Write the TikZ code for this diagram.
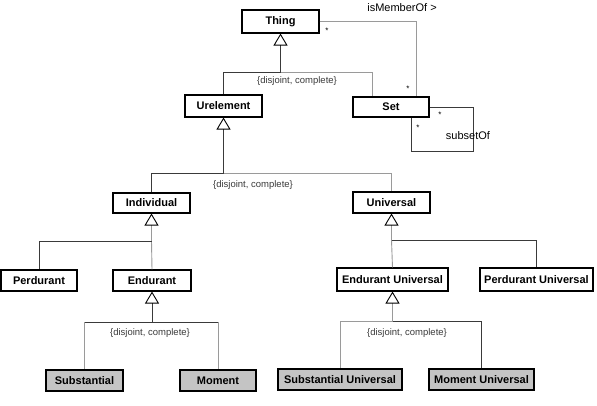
\documentclass[tikz,border=0pt]{standalone}
\usepackage{fontspec}
\setmainfont{Liberation Sans}
\usetikzlibrary{arrows.meta}
\definecolor{boxgray}{HTML}{C4C4C4}
\definecolor{lgray}{HTML}{9A9A9A}
\definecolor{dgray}{HTML}{3A3A3A}
\tikzset{
  cls/.style={draw=black, line width=1.1pt, fill=white, inner sep=0pt,
    font=\fontsize{11}{12}\selectfont\bfseries},
  clsg/.style={cls, fill=boxgray},
  gen/.style={-{Triangle[open, width=14pt, length=12pt, line width=0.9pt, color=black]}},
  ln/.style={line width=0.9pt, draw=dgray},
  lnl/.style={line width=0.9pt, draw=lgray},
  lbl/.style={font=\fontsize{9.5}{10}\selectfont, text=dgray, inner sep=0pt},
  albl/.style={font=\fontsize{11}{12}\selectfont, inner sep=0pt},
  star/.style={font=\fontsize{8}{9}\selectfont, inner sep=0pt}
}
\begin{document}
\begin{tikzpicture}[x=1pt, y=-1pt]
\useasboundingbox (0,0) rectangle (597,406);

% classes
\node[cls, minimum width=77pt, minimum height=23pt] (thing) at (280.5,21.5) {Thing};
\node[cls, minimum width=77pt, minimum height=22pt] (urel) at (223.5,106) {Urelement};
\node[cls, minimum width=76pt, minimum height=20pt] (set) at (391,107) {Set};
\node[cls, minimum width=77pt, minimum height=20pt] (indiv) at (151.5,203) {Individual};
\node[cls, minimum width=77pt, minimum height=21pt] (univ) at (391.5,202.5) {Universal};
\node[cls, minimum width=76pt, minimum height=21pt] (perd) at (39,280.5) {Perdurant};
\node[cls, minimum width=78pt, minimum height=21pt] (endu) at (152,280.5) {Endurant};
\node[cls, minimum width=111pt, minimum height=23pt] (eu) at (392.5,279.5) {Endurant Universal};
\node[cls, minimum width=113pt, minimum height=23pt] (pu) at (536.5,279.5) {Perdurant Universal};
\node[clsg, minimum width=77pt, minimum height=21pt] (subs) at (84.5,380.5) {Substantial};
\node[clsg, minimum width=76pt, minimum height=21pt] (mom) at (218,380.5) {Moment};
\node[clsg, minimum width=124pt, minimum height=21pt] (su) at (340,379.5) {Substantial Universal};
\node[clsg, minimum width=105pt, minimum height=21pt] (mu) at (481.5,379.5) {Moment Universal};

% junction coordinates
\coordinate (j1) at (280.5,72);
\coordinate (j2) at (223.5,173);
\coordinate (j3) at (151.5,241);
\coordinate (j4) at (391.5,240);
\coordinate (j5) at (152,322);
\coordinate (j6) at (392.5,321);
\coordinate (setin) at ([xshift=-19pt]set.north);
\coordinate (memb) at ([xshift=25pt]set.north);
\coordinate (sl1) at ([xshift=44pt]set.east);
\coordinate (sl3) at ([xshift=20pt]set.south);
\coordinate (sl2) at ([yshift=-34pt]sl3);
\coordinate (h5a) at (subs.north |- j5);
\coordinate (h5b) at (mom.north |- j5);

% Thing generalization
\draw[ln, gen] (j1) -- (thing.south);
\draw[ln] (j1) -| (urel.north);
\draw[lnl] (j1) -| (setin);
\node[lbl] (dc1) at (297,81) {\{disjoint, complete\}};

% isMemberOf
\draw[lnl] (thing.east) -| (memb);
\node[albl] (ism) at (402,8) {isMemberOf >};
\node[star] (s1) at (327,31) {*};
\node[star] (s2) at (408,89) {*};

% subsetOf
\draw[ln] (set.east) -| (sl1) |- (sl2) -| (sl3);
\node[albl] (sso) at (468,136) {subsetOf};
\node[star] (s3) at (440,115) {*};
\node[star] (s4) at (418,128) {*};

% Urelement generalization
\draw[ln, gen] (j2) -- (urel.south);
\draw[ln] (j2) -| (indiv.north);
\draw[lnl] (j2) -| (univ.north);
\node[lbl] (dc2) at (253,185) {\{disjoint, complete\}};

% Individual generalization
\draw[lnl, gen] (j3) -- (indiv.south);
\draw[lnl] (j3) -- (endu.north);
\draw[ln] (j3) -| (perd.north);

% Universal generalization
\draw[lnl, gen] (j4) -- (univ.south);
\draw[lnl] (j4) -- (eu.north);
\draw[ln] (j4) -| (pu.north);

% Endurant generalization
\draw[ln, gen] (j5) -- (endu.south);
\draw[ln] (h5a) -- (h5b);
\draw[lnl] (h5a) -- (subs.north);
\draw[lnl] (h5b) -- (mom.north);
\node[lbl] (dc3) at (150,333) {\{disjoint, complete\}};

% Endurant Universal generalization
\draw[lnl, gen] (j6) -- (eu.south);
\draw[lnl] (j6) -| (su.north);
\draw[ln] (j6) -| (mu.north);
\node[lbl] (dc4) at (407,333) {\{disjoint, complete\}};
\end{tikzpicture}
\end{document}
